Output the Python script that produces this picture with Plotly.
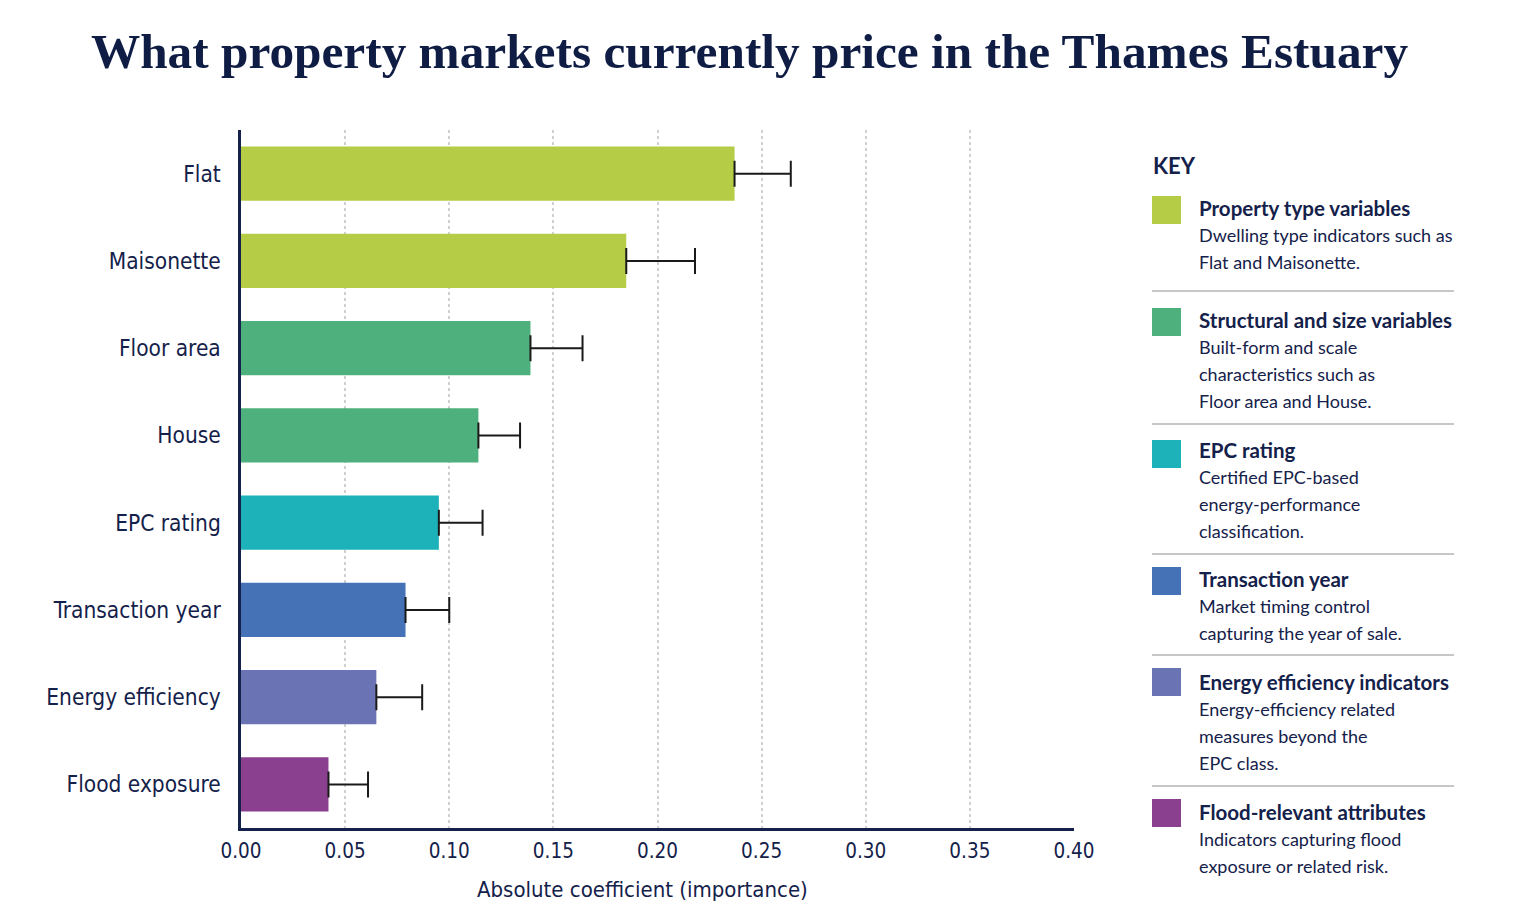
import plotly.graph_objects as go

# ---------------- data ----------------
categories = ["Flat", "Maisonette", "Floor area", "House", "EPC rating",
              "Transaction year", "Energy efficiency", "Flood exposure"]
importance = [0.237, 0.185, 0.139, 0.114, 0.095, 0.079, 0.065, 0.042]
error_plus = [0.027, 0.033, 0.025, 0.020, 0.021, 0.021, 0.022, 0.019]
bar_colors = ["#b4cc46", "#b4cc46", "#4eb07d", "#4eb07d", "#1db1ba",
              "#4571b6", "#6a74b4", "#8a3f8f"]
x_ticks = [0.00, 0.05, 0.10, 0.15, 0.20, 0.25, 0.30, 0.35, 0.40]
x_tick_labels = ["0.00", "0.05", "0.10", "0.15", "0.20", "0.25", "0.30", "0.35", "0.40"]

key_titles = ["Property type variables", "Structural and size variables", "EPC rating",
              "Transaction year", "Energy efficiency indicators", "Flood-relevant attributes"]
key_colors = ["#b4cc46", "#4eb07d", "#1db1ba", "#4571b6", "#6a74b4", "#8a3f8f"]
key_descriptions = [
    ["Dwelling type indicators such as", "Flat and Maisonette."],
    ["Built-form and scale", "characteristics such as", "Floor area and House."],
    ["Certified EPC-based", "energy-performance", "classification."],
    ["Market timing control", "capturing the year of sale."],
    ["Energy-efficiency related", "measures beyond the", "EPC class."],
    ["Indicators capturing flood", "exposure or related risk."],
]

title_text = "What property markets currently price in the Thames Estuary"
x_title = "Absolute coefficient (importance)"

NAVY = "#14214a"
COND = "DejaVu Sans Condensed, Liberation Sans Narrow, Roboto, sans-serif"
LEG = "Lato, Noto Sans, sans-serif"

# ---------------- layout geometry (pixels) ----------------
W, H = 1538, 913
L, R, T, B = 241, 1074, 130, 828


def px_x(p):
    return (p - L) / (R - L)


def px_y(p):
    return (B - p) / (B - T)


fig = go.Figure()
fig.add_trace(go.Bar(
    y=categories, x=importance, orientation="h",
    marker=dict(color=bar_colors, line=dict(width=0)),
    width=0.62,
    error_x=dict(type="data", symmetric=False, array=error_plus,
                 arrayminus=[0] * len(categories),
                 color="#1a1a1a", thickness=2, width=13),
    showlegend=False, hoverinfo="x+y",
))

annotations = []
shapes = []

# axis title
annotations.append(dict(text=x_title, x=px_x(642), y=px_y(889), xref="paper", yref="paper",
                        xanchor="center", yanchor="middle", showarrow=False,
                        font=dict(family=COND, size=22, color=NAVY)))

# key
kx = px_x(1151)
tx = px_x(1197)
annotations.append(dict(text="<b>KEY</b>", x=kx, y=px_y(165), xref="paper", yref="paper",
                        xanchor="left", yanchor="middle", showarrow=False,
                        font=dict(family=LEG, size=22, color=NAVY)))

square_tops = [196, 308, 440, 567, 668, 799]
title_ys = [208, 320, 450, 579, 682, 812]
separators = [291, 424, 554, 655, 786]
line_step = 27

for i, t in enumerate(key_titles):
    st = square_tops[i]
    shapes.append(dict(type="rect", xref="paper", yref="paper",
                       x0=px_x(1152), x1=px_x(1181), y0=px_y(st + 28), y1=px_y(st),
                       fillcolor=key_colors[i], line=dict(width=0)))
    annotations.append(dict(text="<b>" + t + "</b>", x=tx, y=px_y(title_ys[i]),
                            xref="paper", yref="paper", xanchor="left", yanchor="middle",
                            showarrow=False, font=dict(family=LEG, size=20.5, color=NAVY)))
    for j, line in enumerate(key_descriptions[i]):
        annotations.append(dict(text=line, x=tx, y=px_y(title_ys[i] + line_step * (j + 1)),
                                xref="paper", yref="paper", xanchor="left", yanchor="middle",
                                showarrow=False, font=dict(family=LEG, size=18, color=NAVY)))

for s in separators:
    shapes.append(dict(type="line", xref="paper", yref="paper",
                       x0=px_x(1152), x1=px_x(1454), y0=px_y(s), y1=px_y(s),
                       line=dict(color="#b5b5b5", width=1.5)))

fig.update_layout(
    width=W, height=H,
    margin=dict(l=L, r=W - R, t=T, b=H - B, autoexpand=False),
    paper_bgcolor="white", plot_bgcolor="white",
    title=dict(text="<b>" + title_text + "</b>", xref="container", yref="container",
               x=749.5 / W, y=1 - 51 / H, xanchor="center", yanchor="middle",
               font=dict(family="Liberation Serif, Times New Roman, serif", size=49.3, color="#0f1d45")),
    xaxis=dict(range=[0, 0.40], tickvals=x_ticks, ticktext=x_tick_labels,
               showgrid=True, gridcolor="#d0d0d0", griddash="dot", gridwidth=1.5,
               showline=True, linecolor=NAVY, linewidth=2.5, zeroline=False,
               ticks="", ticklabelstandoff=3, automargin=False,
               tickfont=dict(family=COND, size=20.5, color=NAVY), fixedrange=True),
    yaxis=dict(categoryorder="array", categoryarray=categories, autorange="reversed",
               showline=True, linecolor=NAVY, linewidth=2.5, showgrid=False,
               ticks="", ticklabelstandoff=13, automargin=False,
               tickfont=dict(family=COND, size=22.5, color=NAVY), fixedrange=True),
    bargap=0.38,
    annotations=annotations,
    shapes=shapes,
)

fig.write_html("out.html")
